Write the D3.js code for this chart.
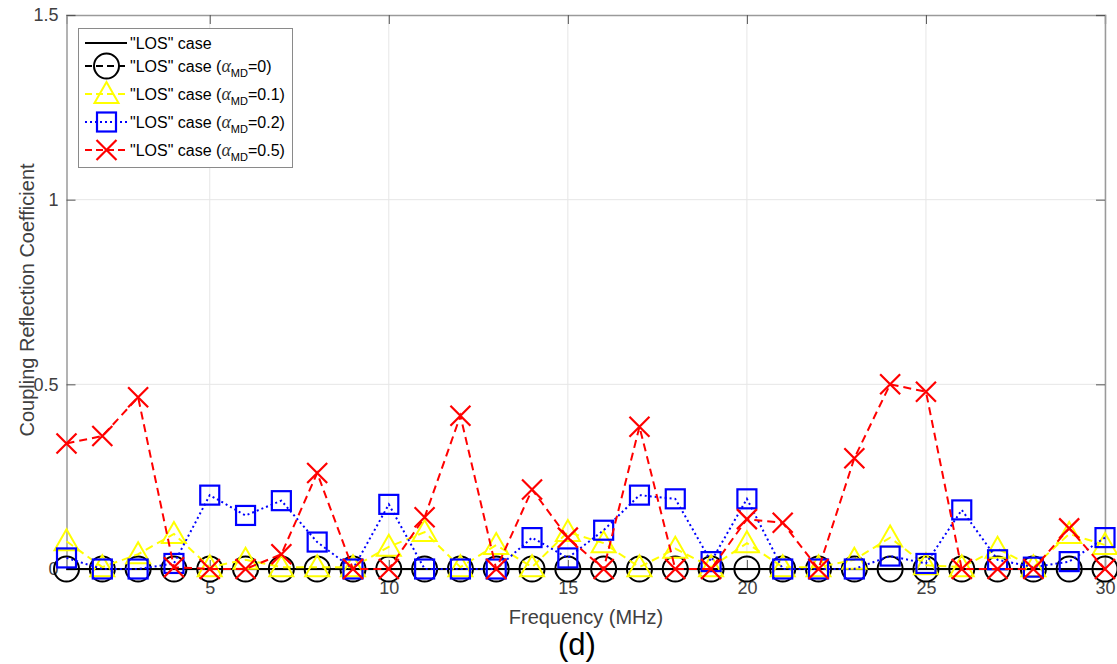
<!DOCTYPE html>
<html>
<head>
<meta charset="utf-8">
<script src="https://cdn.jsdelivr.net/npm/d3@7"></script>
<style>
    body { margin: 0; background: #fff; }
    svg text { font-family: "Liberation Sans", Arial, sans-serif; }
</style>
</head>
<body>
<div id="chart"></div>
<script>
// frequency points (MHz)
let freq = d3.range(1, 31);

// coupling reflection coefficients
let losCase = freq.map(() => 0);
let alpha0 = freq.map(() => 0);
let alpha01 = [0.075, 0.005, 0.04, 0.095, 0.005, 0.025, 0.005, 0.005, 0.005, 0.06,
               0.1, 0.005, 0.065, 0.005, 0.1, 0.07, 0.005, 0.055, 0.005, 0.07,
               0.005, 0.005, 0.025, 0.085, 0.01, 0.005, 0.055, 0.005, 0.095, 0.065];
let alpha02 = [0.03, 0, 0, 0.015, 0.2, 0.145, 0.185, 0.073, 0, 0.175,
               0, 0, 0, 0.085, 0.03, 0.105, 0.2, 0.19, 0.02, 0.19,
               0, 0, 0, 0.035, 0.015, 0.16, 0.025, 0.005, 0.02, 0.085];
let alpha05 = [0.34, 0.36, 0.465, 0.005, 0, 0, 0.04, 0.26, 0, 0,
               0.14, 0.415, 0, 0.215, 0.085, 0, 0.385, 0, 0, 0.135,
               0.125, 0, 0.30, 0.50, 0.48, 0, 0, 0, 0.11, 0];

let xTicks = [5, 10, 15, 20, 25, 30];
let yTicks = [0, 0.5, 1, 1.5];

let series = [
    {name: "\"LOS\" case", alpha: null, values: losCase, color: "#000000", dash: null, marker: "none"},
    {name: "\"LOS\" case", alpha: "0", values: alpha0, color: "#000000", dash: "9,3,2,3", marker: "circle"},
    {name: "\"LOS\" case", alpha: "0.1", values: alpha01, color: "#ffff00", dash: "8,5", marker: "triangle"},
    {name: "\"LOS\" case", alpha: "0.2", values: alpha02, color: "#0000ff", dash: "2,3", marker: "square"},
    {name: "\"LOS\" case", alpha: "0.5", values: alpha05, color: "#ff0000", dash: "8,5", marker: "cross"}
];

let W = 1117, H = 664;
let margin = {top: 15, right: 12, bottom: 95, left: 66.5};
let width = 1105 - margin.left;
let height = 569 - margin.top;

let svg = d3.select("#chart").append("svg")
    .attr("width", W)
    .attr("height", H);

let g = svg.append("g")
    .attr("transform", `translate(${margin.left}, ${margin.top})`);

let x = d3.scaleLinear().domain([1, 30]).range([0, width]);
let y = d3.scaleLinear().domain([0, 1.5]).range([height, 0]);

// grid
g.selectAll(".xgrid").data(xTicks).enter().append("line")
    .attr("x1", d => x(d)).attr("x2", d => x(d))
    .attr("y1", 0).attr("y2", height)
    .attr("stroke", "#e6e6e6").attr("stroke-width", 1);
g.selectAll(".ygrid").data(yTicks.filter(d => d > 0 && d < 1.5)).enter().append("line")
    .attr("x1", 0).attr("x2", width)
    .attr("y1", d => y(d)).attr("y2", d => y(d))
    .attr("stroke", "#e6e6e6").attr("stroke-width", 1);

// axes (ticks pointing inward like matlab)
let axisColor = "#9a9a9a";
let labelColor = "#404040";

let xAxis = g.append("g").attr("transform", `translate(0, ${height})`)
    .call(d3.axisBottom(x).tickValues(xTicks).tickSize(-9).tickPadding(12).tickFormat(d3.format("d")));
let xAxisTop = g.append("g")
    .call(d3.axisTop(x).tickValues(xTicks).tickSize(-9).tickFormat(""));
let yAxis = g.append("g")
    .call(d3.axisLeft(y).tickValues(yTicks).tickSize(-9).tickPadding(8).tickFormat(d => d));
let yAxisRight = g.append("g").attr("transform", `translate(${width}, 0)`)
    .call(d3.axisRight(y).tickValues(yTicks).tickSize(-9).tickFormat(""));

[xAxis, xAxisTop, yAxis, yAxisRight].forEach(a => {
    a.select(".domain").attr("stroke", axisColor).attr("stroke-width", 1.5);
    a.selectAll(".tick line").attr("stroke", "#555").attr("stroke-width", 1);
    a.selectAll("text").attr("fill", labelColor).style("font-size", "18px");
});

// axis labels
svg.append("text")
    .attr("x", 586).attr("y", 624)
    .attr("text-anchor", "middle")
    .attr("fill", labelColor)
    .style("font-size", "20px")
    .text("Frequency (MHz)");

svg.append("text")
    .attr("transform", "translate(34, 300) rotate(-90)")
    .attr("text-anchor", "middle")
    .attr("fill", labelColor)
    .style("font-size", "20px")
    .text("Coupling Reflection Coefficient");

svg.append("text")
    .attr("x", 577).attr("y", 655)
    .attr("text-anchor", "middle")
    .attr("fill", "#000")
    .style("font-size", "31px")
    .text("(d)");

// markers
function drawMarker(sel, type, color, cx, cy) {
    if (type === "circle") {
        sel.append("circle").attr("cx", cx).attr("cy", cy).attr("r", 12.5)
            .attr("fill", "none").attr("stroke", color).attr("stroke-width", 2);
    } else if (type === "triangle") {
        let s = 12;
        sel.append("path")
            .attr("d", `M${cx},${cy - s}L${cx + s},${cy + s * 0.75}L${cx - s},${cy + s * 0.75}Z`)
            .attr("fill", "none").attr("stroke", color).attr("stroke-width", 2);
    } else if (type === "square") {
        sel.append("rect").attr("x", cx - 9.5).attr("y", cy - 9.5)
            .attr("width", 19).attr("height", 19)
            .attr("fill", "none").attr("stroke", color).attr("stroke-width", 2.2);
    } else if (type === "cross") {
        let s = 10;
        sel.append("path")
            .attr("d", `M${cx - s},${cy - s}L${cx + s},${cy + s}M${cx - s},${cy + s}L${cx + s},${cy - s}`)
            .attr("fill", "none").attr("stroke", color).attr("stroke-width", 2.2);
    }
}

let line = d3.line()
    .x((d, i) => x(freq[i]))
    .y(d => y(d));

let plot = g.append("g");

series.forEach(s => {
    let sg = plot.append("g");
    sg.append("path")
        .datum(s.values)
        .attr("d", line)
        .attr("fill", "none")
        .attr("stroke", s.color)
        .attr("stroke-width", 2)
        .attr("stroke-dasharray", s.dash);
    s.values.forEach((v, i) => {
        drawMarker(sg, s.marker, s.color, x(freq[i]), y(v));
    });
});

// legend
let legend = svg.append("g");
legend.append("rect")
    .attr("x", 78.5).attr("y", 28.5)
    .attr("width", 214).attr("height", 139)
    .attr("fill", "#fff").attr("stroke", "#8a8a8a").attr("stroke-width", 1);

let legendY = [43, 66, 94, 122, 150];
series.forEach((s, i) => {
    let ly = legendY[i];
    legend.append("line")
        .attr("x1", 85).attr("x2", 127)
        .attr("y1", ly).attr("y2", ly)
        .attr("stroke", s.color).attr("stroke-width", 2)
        .attr("stroke-dasharray", s.dash ? (s.marker === "square" ? "2,3" : "7,4") : null);
    drawMarker(legend, s.marker, s.color, 106.5, ly);
    let t = legend.append("text")
        .attr("x", 130).attr("y", ly + 6)
        .attr("fill", "#000")
        .style("font-size", "16px");
    if (s.alpha === null) {
        t.text(s.name);
    } else {
        t.append("tspan").text(s.name + " (");
        t.append("tspan").style("font-family", "'Liberation Serif', serif").style("font-style", "italic").style("font-size", "18px").attr("fill", "#333").text("α");
        t.append("tspan").attr("dy", 5).style("font-size", "11px").text("MD");
        t.append("tspan").attr("dy", -5).text("=" + s.alpha + ")");
    }
});
</script>
</body>
</html>
